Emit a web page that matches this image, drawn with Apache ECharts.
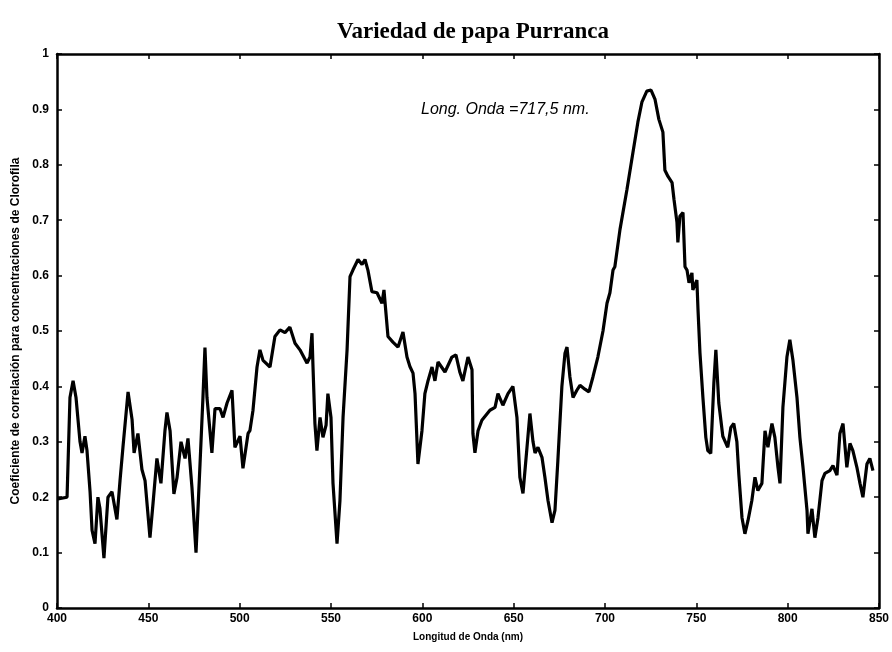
<!DOCTYPE html>
<html>
<head>
<meta charset="utf-8">
<script src="https://cdn.jsdelivr.net/npm/echarts@6/dist/echarts.min.js"></script>
<style>
  html, body { margin: 0; padding: 0; background: #fff; }
  #chart { width: 892px; height: 652px; }
</style>
</head>
<body>
<div id="chart"></div>
<script>
// Correlation coefficient vs. wavelength (nm), chlorophyll content, Purranca potato
const wavelength = [
  400.5, 405.5, 407.1, 408.8, 410.4, 412.6, 413.7, 415.3, 416.4, 418.1,
  419.2, 420.8, 422.4, 423.5, 425.7, 427.9, 430.1, 432.8, 434.5, 436.1,
  438.9, 441.1, 442.2, 444.3, 446.5, 448.2, 450.9, 452.6, 454.7, 456.9,
  459.1, 460.2, 461.9, 464.0, 465.7, 467.9, 470.1, 471.7, 473.9, 476.1,
  478.3, 479.9, 481.0, 482.1, 484.8, 486.5, 489.2, 490.9, 493.1, 495.8,
  497.4, 500.2, 501.8, 504.6, 505.6, 507.3, 509.5, 511.1, 512.8, 516.6,
  519.3, 522.1, 524.8, 527.5, 530.3, 533.0, 536.9, 538.5, 539.6, 540.1,
  541.2, 542.3, 544.0, 545.6, 547.3, 548.3, 550.0, 551.1, 553.3, 554.9,
  556.6, 558.8, 560.4, 562.0, 564.8, 567.0, 568.6, 570.2, 572.4, 575.2,
  577.9, 579.0, 581.2, 583.9, 586.7, 589.4, 591.6, 593.2, 594.9, 596.0,
  597.6, 599.8, 601.4, 603.1, 605.3, 606.9, 608.6, 612.4, 616.2, 618.4,
  620.6, 622.2, 625.0, 627.2, 627.7, 628.8, 630.5, 632.6, 637.0, 639.8,
  641.4, 644.1, 646.9, 649.6, 651.8, 653.4, 655.1, 657.3, 658.9, 660.6,
  661.7, 663.3, 665.5, 667.1, 668.8, 671.0, 672.6, 674.2, 676.4, 678.1,
  679.2, 680.8, 682.5, 684.6, 686.3, 689.0, 691.2, 693.4, 696.1, 698.9,
  701.1, 702.7, 704.4, 705.4, 708.2, 712.0, 715.3, 718.0, 720.2, 722.9,
  725.2, 727.4, 729.5, 731.7, 732.8, 734.5, 736.7, 737.8, 739.4, 739.9,
  741.0, 742.7, 743.8, 744.9, 746.0, 747.6, 748.1, 750.3, 750.9, 752.0,
  753.6, 755.2, 756.3, 757.9, 759.6, 760.7, 762.3, 764.5, 767.2, 768.9,
  770.5, 772.2, 773.3, 775.0, 776.6, 778.3, 780.4, 782.1, 783.7, 785.9,
  787.6, 789.2, 791.4, 793.0, 794.7, 795.8, 797.4, 799.6, 801.2, 802.9,
  805.1, 806.7, 808.4, 810.6, 811.1, 813.3, 814.9, 816.6, 818.8, 820.4,
  823.1, 824.8, 827.0, 828.6, 830.3, 832.4, 834.1, 835.7, 837.9, 839.6,
  841.2, 843.4, 845.0, 846.7
];

const coefficient = [
  0.197, 0.200, 0.380, 0.410, 0.380, 0.300, 0.280, 0.310, 0.285, 0.210,
  0.140, 0.116, 0.200, 0.180, 0.090, 0.200, 0.210, 0.160, 0.230, 0.290,
  0.390, 0.340, 0.280, 0.315, 0.250, 0.230, 0.127, 0.190, 0.270, 0.225,
  0.320, 0.353, 0.320, 0.206, 0.235, 0.300, 0.270, 0.306, 0.217, 0.100,
  0.260, 0.380, 0.470, 0.380, 0.280, 0.360, 0.360, 0.344, 0.370, 0.393,
  0.290, 0.310, 0.252, 0.315, 0.320, 0.357, 0.435, 0.466, 0.447, 0.435,
  0.490, 0.502, 0.497, 0.507, 0.478, 0.466, 0.442, 0.453, 0.496, 0.440,
  0.333, 0.284, 0.344, 0.308, 0.330, 0.387, 0.344, 0.225, 0.116, 0.194,
  0.344, 0.466, 0.598, 0.610, 0.629, 0.620, 0.629, 0.610, 0.571, 0.569,
  0.550, 0.574, 0.490, 0.480, 0.471, 0.498, 0.453, 0.436, 0.424, 0.387,
  0.260, 0.320, 0.387, 0.410, 0.435, 0.410, 0.444, 0.426, 0.453, 0.457,
  0.425, 0.410, 0.453, 0.430, 0.315, 0.280, 0.320, 0.339, 0.357, 0.362,
  0.387, 0.366, 0.387, 0.400, 0.344, 0.236, 0.207, 0.290, 0.351, 0.300,
  0.280, 0.290, 0.272, 0.236, 0.194, 0.154, 0.176, 0.266, 0.400, 0.460,
  0.471, 0.417, 0.380, 0.393, 0.402, 0.395, 0.390, 0.417, 0.453, 0.500,
  0.550, 0.569, 0.610, 0.616, 0.683, 0.755, 0.822, 0.877, 0.913, 0.933,
  0.935, 0.918, 0.882, 0.859, 0.790, 0.779, 0.768, 0.737, 0.696, 0.660,
  0.707, 0.714, 0.616, 0.610, 0.587, 0.605, 0.574, 0.592, 0.540, 0.460,
  0.380, 0.308, 0.284, 0.279, 0.406, 0.466, 0.370, 0.310, 0.290, 0.326,
  0.333, 0.300, 0.240, 0.163, 0.134, 0.158, 0.194, 0.236, 0.212, 0.225,
  0.320, 0.290, 0.333, 0.308, 0.254, 0.225, 0.362, 0.453, 0.484, 0.447,
  0.380, 0.308, 0.254, 0.176, 0.134, 0.179, 0.127, 0.163, 0.230, 0.243,
  0.248, 0.257, 0.240, 0.315, 0.333, 0.254, 0.297, 0.284, 0.254, 0.225,
  0.200, 0.260, 0.270, 0.248
];

const xTicks = [400, 450, 500, 550, 600, 650, 700, 750, 800, 850];
const yTicks = [0, 0.1, 0.2, 0.3, 0.4, 0.5, 0.6, 0.7, 0.8, 0.9, 1];

const titleText = 'Variedad de papa Purranca';
const xName = 'Longitud de Onda (nm)';
const yName = 'Coeficiente de correlación para concentraciones de Clorofila';
const noteText = 'Long. Onda =717,5 nm.';

const points = wavelength.map((w, i) => [w, coefficient[i]]);

const chart = echarts.init(document.getElementById('chart'), null, { renderer: 'canvas' });

const frameLine = { show: true, onZero: false, lineStyle: { color: '#000', width: 2.5 } };
const tickIn = { show: true, inside: true, length: 5, lineStyle: { color: '#000', width: 1.5 } };
const tickFont = { color: '#000', fontFamily: 'Liberation Sans', fontWeight: 'bold', fontSize: 12 };

chart.setOption({
  animation: false,
  backgroundColor: '#fff',
  title: {
    text: titleText,
    left: 468,
    textAlign: 'center',
    top: 16,
    textStyle: { fontFamily: 'Liberation Serif', fontWeight: 'bold', fontSize: 23, color: '#000' }
  },
  grid: { left: 57, right: 13, top: 54, bottom: 44, containLabel: false },
  xAxis: [
    {
      type: 'value', min: xTicks[0], max: xTicks[xTicks.length - 1], interval: 50,
      position: 'bottom',
      axisLine: frameLine, axisTick: tickIn,
      axisLabel: Object.assign({ margin: 5, formatter: v => String(v) }, tickFont),
      splitLine: { show: false },
      name: xName, nameLocation: 'middle', nameGap: 24,
      nameTextStyle: { fontFamily: 'Liberation Sans', fontWeight: 'bold', fontSize: 10, color: '#000' }
    },
    {
      type: 'value', min: xTicks[0], max: xTicks[xTicks.length - 1], interval: 50,
      position: 'top',
      axisLine: frameLine, axisTick: tickIn, axisLabel: { show: false }, splitLine: { show: false }
    }
  ],
  yAxis: [
    {
      type: 'value', min: 0, max: 1, interval: 0.1,
      position: 'left',
      axisLine: frameLine, axisTick: tickIn,
      axisLabel: Object.assign({ margin: 8, formatter: v => yTicks.includes(+v.toFixed(1)) ? String(+v.toFixed(1)) : '' }, tickFont),
      splitLine: { show: false },
      name: yName, nameLocation: 'middle', nameGap: 33, nameRotate: 90,
      nameTextStyle: { fontFamily: 'Liberation Sans', fontWeight: 'bold', fontSize: 12, color: '#000' }
    },
    {
      type: 'value', min: 0, max: 1, interval: 0.1,
      position: 'right',
      axisLine: frameLine, axisTick: tickIn, axisLabel: { show: false }, splitLine: { show: false }
    }
  ],
  series: [
    {
      type: 'line',
      data: points,
      xAxisIndex: 0, yAxisIndex: 0,
      showSymbol: false,
      smooth: false,
      lineStyle: { color: '#000', width: 3.2 },
      itemStyle: { color: '#000' }
    }
  ],
  graphic: [
    {
      type: 'text',
      left: 421,
      top: 102,
      style: {
        text: noteText,
        fill: '#000',
        font: 'italic 16px "Liberation Sans"'
      }
    }
  ]
});
</script>
</body>
</html>
